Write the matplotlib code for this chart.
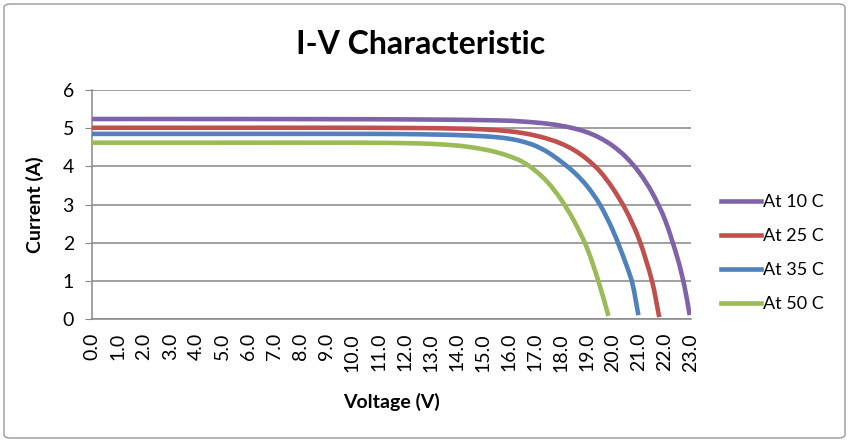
import matplotlib
matplotlib.use("Agg")
import matplotlib.pyplot as plt
from matplotlib.patches import FancyBboxPatch, PathPatch
from matplotlib.path import Path

# values (voltage V, current A)
labels = ["At 10 C", "At 25 C", "At 35 C", "At 50 C"]
colors = ["#7F63A8", "#C0504D", "#4F81BD", "#9BBB59"]

v_10 = [0, 5, 10, 12, 14, 15, 16, 16.5, 17, 17.5, 18, 18.5, 19, 19.5, 20, 20.5, 21, 21.5, 22, 22.5, 22.75, 22.95]
i_10 = [5.24, 5.24, 5.235, 5.23, 5.22, 5.21, 5.195, 5.175, 5.15, 5.115, 5.065, 4.995, 4.895, 4.745, 4.535, 4.245, 3.85, 3.32, 2.6, 1.55, 0.85, 0.1]

v_25 = [0, 5, 10, 12, 13, 14, 15, 16, 16.5, 17, 17.5, 18, 18.5, 19, 19.5, 20, 20.5, 21, 21.5, 21.78]
i_25 = [5.01, 5.01, 5.01, 5.005, 5.0, 4.99, 4.97, 4.92, 4.875, 4.81, 4.72, 4.6, 4.43, 4.19, 3.87, 3.42, 2.85, 2.1, 1.0, 0.05]

v_35 = [0, 5, 10, 12, 13, 14, 15, 15.5, 16, 16.5, 17, 17.5, 18, 18.5, 19, 19.5, 20, 20.5, 20.75, 20.98]
i_35 = [4.85, 4.85, 4.85, 4.845, 4.835, 4.82, 4.79, 4.765, 4.725, 4.655, 4.545, 4.37, 4.13, 3.85, 3.49, 3.0, 2.32, 1.45, 0.93, 0.1]

v_50 = [0, 5, 10, 11, 12, 13, 14, 14.5, 15, 15.5, 16, 16.5, 17, 17.5, 18, 18.5, 19, 19.44, 19.83]
i_50 = [4.62, 4.62, 4.62, 4.617, 4.608, 4.59, 4.545, 4.505, 4.45, 4.375, 4.27, 4.13, 3.9, 3.58, 3.14, 2.58, 1.87, 1.0, 0.08]

volts = [v_10, v_25, v_35, v_50]
amps = [i_10, i_25, i_35, i_50]

x_ticks = list(range(0, 24))
y_ticks = list(range(0, 7))


def smooth_path(xs, ys, sx=26.0, sy=38.2):
    # Excel-style "smoothed line": chordal catmull-rom drawn as cubic beziers
    n = len(xs)
    t = [0.0]
    for k in range(1, n):
        d = (((xs[k] - xs[k - 1]) * sx) ** 2 + ((ys[k] - ys[k - 1]) * sy) ** 2) ** 0.5
        t.append(t[-1] + d)
    mx, my = [], []
    for k in range(n):
        a, b = max(k - 1, 0), min(k + 1, n - 1)
        mx.append((xs[b] - xs[a]) / (t[b] - t[a]))
        my.append((ys[b] - ys[a]) / (t[b] - t[a]))
    verts = [(xs[0], ys[0])]
    codes = [Path.MOVETO]
    for k in range(n - 1):
        h = (t[k + 1] - t[k]) / 3
        verts += [(xs[k] + mx[k] * h, ys[k] + my[k] * h),
                  (xs[k + 1] - mx[k + 1] * h, ys[k + 1] - my[k + 1] * h),
                  (xs[k + 1], ys[k + 1])]
        codes += [Path.CURVE4] * 3
    return Path(verts, codes)


plt.rcParams["font.family"] = ["Lato", "DejaVu Sans"]

fig = plt.figure(figsize=(8.49, 4.42), dpi=100)
ax = fig.add_axes([92 / 849, 1 - 319 / 442, 599 / 849, 229 / 442])

for v, i, c, lab in zip(volts, amps, colors, labels):
    ax.add_patch(PathPatch(smooth_path(v, i), fill=False, edgecolor=c, lw=3.3,
                           capstyle="butt", zorder=3))
    ax.plot([], [], color=c, lw=3.3, label=lab)

ax.set_xlim(0, 23)
ax.set_ylim(0, 6)
ax.set_xticks(x_ticks)
ax.set_xticklabels([f"{t:.1f}" for t in x_ticks], rotation=90)
ax.set_yticks(y_ticks)
ax.grid(axis="y", color="#888888", lw=1.1)
ax.set_axisbelow(True)
for s in ["top", "right"]:
    ax.spines[s].set_visible(False)
for s in ["left", "bottom"]:
    ax.spines[s].set_color("#888888")
    ax.spines[s].set_linewidth(1.1)
ax.tick_params(axis="y", length=5, color="#888888", pad=8, labelsize=14)
ax.tick_params(axis="x", length=0, pad=10, labelsize=14)

fig.text(421 / 849, 1 - 44 / 442, "I-V Characteristic", ha="center", va="center",
         fontsize=23, fontweight="bold")
fig.text(391 / 849, 1 - 402 / 442, "Voltage (V)", ha="center", va="center",
         fontsize=14, fontweight="bold")
fig.text(35 / 849, 1 - 205 / 442, "Current (A)", ha="center", va="center",
         fontsize=14, fontweight="bold", rotation=90)

fig.legend(loc="center left", bbox_to_anchor=(712 / 849, 1 - 253 / 442),
           frameon=False, fontsize=13, handlelength=2.2, handletextpad=0.12,
           labelspacing=1.0, borderpad=0)

# chart border
fig.patches.append(FancyBboxPatch((4 / 849, 4 / 442), 841 / 849, 434 / 442,
                                  boxstyle="round,pad=0,rounding_size=0.008",
                                  transform=fig.transFigure, fill=False,
                                  edgecolor="#9a9a9a", lw=1.0))

plt.savefig("out.png", dpi=100)
